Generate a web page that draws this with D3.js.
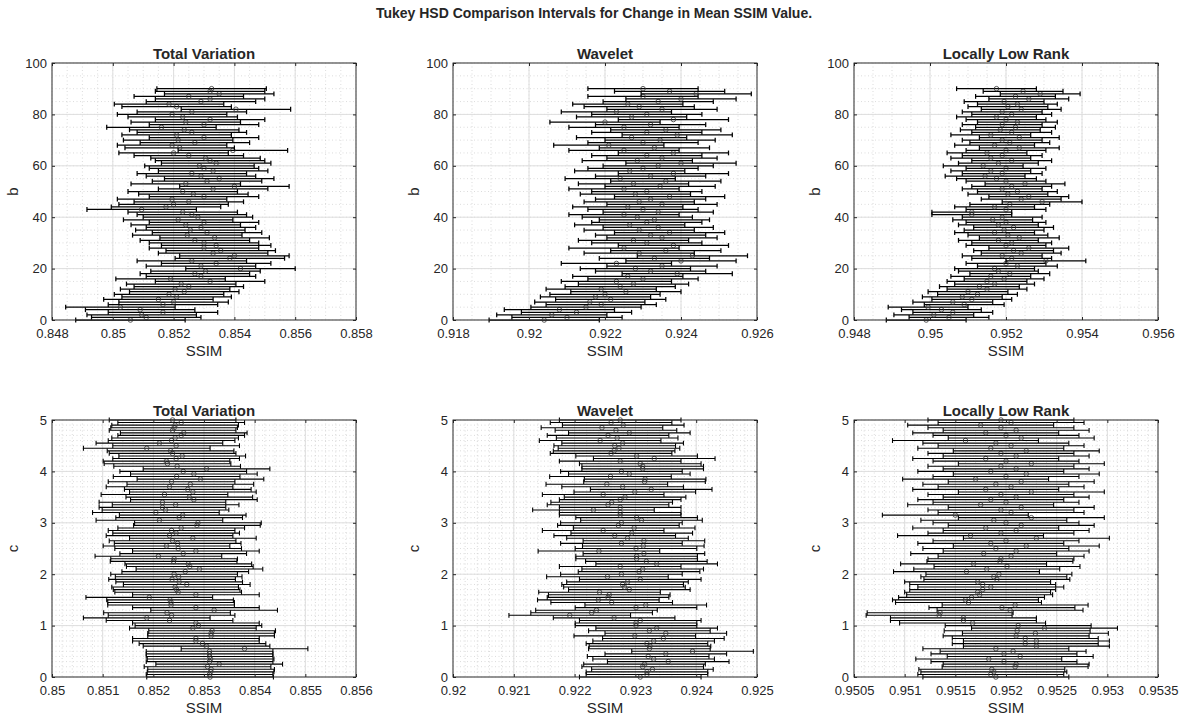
<!DOCTYPE html>
<html>
<head>
<meta charset="utf-8">
<script src="https://cdn.jsdelivr.net/npm/d3@7"></script>
<style>
  body { margin: 0; background: #fff; }
  svg text { font-family: "Liberation Sans", Arial, Helvetica, sans-serif; fill: #262626; }
</style>
</head>
<body>
<svg id="chart" width="1189" height="715"></svg>
<script>
// Factor levels
const bLevels = d3.range(0, 91);
const cLevels = d3.range(0, 101).map(i => +(i * 0.05).toFixed(2));

// Group means of SSIM for each level of b (top row)
const tvB = [
  0.85058,0.85110,0.85095,0.85165,0.85090,0.85025,0.85165,0.85200,0.85150,0.85210,
  0.85185,0.85235,0.85205,0.85250,0.85225,0.85320,0.85190,0.85290,0.85270,0.85305,
  0.85420,0.85290,0.85340,0.85260,0.85385,0.85400,0.85330,0.85355,0.85300,0.85340,
  0.85300,0.85270,0.85335,0.85245,0.85310,0.85255,0.85290,0.85240,0.85300,0.85215,
  0.85280,0.85260,0.85230,0.85095,0.85175,0.85200,0.85250,0.85195,0.85300,0.85265,
  0.85230,0.85330,0.85400,0.85240,0.85310,0.85350,0.85290,0.85260,0.85330,0.85300,
  0.85285,0.85340,0.85320,0.85305,0.85250,0.85200,0.85395,0.85220,0.85195,0.85270,
  0.85215,0.85300,0.85210,0.85260,0.85235,0.85160,0.85300,0.85240,0.85320,0.85230,
  0.85195,0.85260,0.85405,0.85210,0.85185,0.85290,0.85320,0.85250,0.85350,0.85320,
  0.85325];
const wavB = [
  0.92040,0.92100,0.92060,0.92125,0.92080,0.92150,0.92190,0.92160,0.92215,0.92175,
  0.92200,0.92255,0.92190,0.92240,0.92275,0.92230,0.92300,0.92260,0.92390,0.92320,
  0.92280,0.92350,0.92230,0.92400,0.92330,0.92430,0.92290,0.92360,0.92250,0.92380,
  0.92310,0.92275,0.92350,0.92320,0.92370,0.92290,0.92340,0.92265,0.92310,0.92330,
  0.92285,0.92250,0.92340,0.92300,0.92260,0.92350,0.92290,0.92320,0.92370,0.92280,
  0.92310,0.92250,0.92345,0.92275,0.92360,0.92240,0.92320,0.92380,0.92265,0.92300,
  0.92340,0.92400,0.92285,0.92350,0.92310,0.92380,0.92250,0.92330,0.92210,0.92300,
  0.92345,0.92270,0.92390,0.92310,0.92360,0.92250,0.92320,0.92200,0.92380,0.92270,
  0.92310,0.92230,0.92350,0.92290,0.92260,0.92340,0.92400,0.92300,0.92440,0.92370,
  0.92300];
const llrB = [
  0.94990,0.95050,0.95010,0.95060,0.95030,0.94995,0.95090,0.95060,0.95110,0.95085,
  0.95125,0.95100,0.95150,0.95130,0.95170,0.95150,0.95195,0.95160,0.95210,0.95180,
  0.95170,0.95230,0.95200,0.95305,0.95215,0.95190,0.95240,0.95220,0.95260,0.95200,
  0.95215,0.95180,0.95235,0.95205,0.95170,0.95195,0.95220,0.95180,0.95200,0.95165,
  0.95190,0.95110,0.95110,0.95200,0.95170,0.95210,0.95295,0.95240,0.95260,0.95205,
  0.95230,0.95190,0.95215,0.95250,0.95200,0.95175,0.95145,0.95190,0.95160,0.95200,
  0.95140,0.95180,0.95215,0.95160,0.95190,0.95150,0.95200,0.95235,0.95170,0.95210,
  0.95190,0.95235,0.95160,0.95215,0.95185,0.95225,0.95190,0.95230,0.95200,0.95175,
  0.95215,0.95190,0.95240,0.95205,0.95230,0.95195,0.95260,0.95225,0.95290,0.95245,
  0.95175];

// Group means of SSIM for each level of c (bottom row)
const tvC = [
  0.85312,0.85311,0.85313,0.85314,0.85307,0.85330,0.85311,0.85313,0.85311,0.85311,
  0.85311,0.85380,0.85305,0.85297,0.85284,0.85284,0.85314,0.85314,0.85316,0.85278,
  0.85289,0.85284,0.85232,0.85187,0.85236,0.85227,0.85320,0.85284,0.85235,0.85235,
  0.85233,0.85192,0.85284,0.85249,0.85246,0.85243,0.85266,0.85251,0.85237,0.85250,
  0.85241,0.85263,0.85291,0.85272,0.85269,0.85240,0.85241,0.85210,0.85259,0.85284,
  0.85249,0.85226,0.85248,0.85238,0.85278,0.85232,0.85245,0.85236,0.85255,0.85286,
  0.85288,0.85212,0.85251,0.85258,0.85205,0.85224,0.85218,0.85244,0.85218,0.85280,
  0.85271,0.85222,0.85278,0.85268,0.85232,0.85273,0.85236,0.85293,0.85246,0.85280,
  0.85259,0.85305,0.85247,0.85228,0.85226,0.85245,0.85257,0.85238,0.85234,0.85187,
  0.85245,0.85212,0.85236,0.85243,0.85255,0.85260,0.85238,0.85241,0.85243,0.85255,
  0.85238];
const wavC = [
  0.92308,0.92319,0.92319,0.92328,0.92312,0.92315,0.92354,0.92330,0.92321,0.92350,
  0.92394,0.92323,0.92324,0.92319,0.92330,0.92346,0.92299,0.92350,0.92323,0.92335,
  0.92301,0.92301,0.92308,0.92265,0.92192,0.92228,0.92236,0.92301,0.92317,0.92261,
  0.92239,0.92255,0.92257,0.92241,0.92290,0.92282,0.92279,0.92287,0.92308,0.92254,
  0.92277,0.92306,0.92312,0.92275,0.92335,0.92318,0.92302,0.92302,0.92314,0.92240,
  0.92301,0.92313,0.92277,0.92314,0.92287,0.92266,0.92294,0.92247,0.92298,0.92272,
  0.92277,0.92310,0.92302,0.92275,0.92275,0.92231,0.92275,0.92255,0.92261,0.92275,
  0.92283,0.92247,0.92299,0.92326,0.92279,0.92253,0.92315,0.92316,0.92259,0.92290,
  0.92277,0.92312,0.92312,0.92308,0.92275,0.92331,0.92302,0.92260,0.92265,0.92273,
  0.92266,0.92279,0.92242,0.92270,0.92255,0.92290,0.92268,0.92245,0.92280,0.92260,
  0.92275];
const llrC = [
  0.95190,0.95185,0.95188,0.95186,0.95209,0.95210,0.95198,0.95183,0.95214,0.95198,
  0.95207,0.95190,0.95230,0.95219,0.95230,0.95219,0.95210,0.95229,0.95211,0.95238,
  0.95212,0.95167,0.95158,0.95158,0.95134,0.95135,0.95204,0.95196,0.95209,0.95163,
  0.95160,0.95166,0.95174,0.95172,0.95177,0.95185,0.95177,0.95172,0.95191,0.95188,
  0.95193,0.95161,0.95181,0.95201,0.95168,0.95194,0.95195,0.95205,0.95178,0.95210,
  0.95190,0.95220,0.95185,0.95200,0.95230,0.95165,0.95195,0.95210,0.95180,0.95215,
  0.95200,0.95188,0.95225,0.95150,0.95205,0.95195,0.95215,0.95175,0.95200,0.95185,
  0.95210,0.95195,0.95225,0.95180,0.95205,0.95190,0.95215,0.95170,0.95200,0.95220,
  0.95185,0.95210,0.95195,0.95225,0.95200,0.95180,0.95210,0.95195,0.95220,0.95185,
  0.95205,0.95190,0.95160,0.95215,0.95200,0.95180,0.95210,0.95195,0.95175,0.95205,
  0.95195];

// Half-widths of the Tukey HSD comparison intervals
const halfWidths = [0.0018, 0.00145, 0.00105, 0.00125, 0.0010, 0.00072];

// Axis tick values
const tvBTicks  = [0.848, 0.85, 0.852, 0.854, 0.856, 0.858];
const wavBTicks = [0.918, 0.92, 0.922, 0.924, 0.926];
const llrBTicks = [0.948, 0.95, 0.952, 0.954, 0.956];
const tvCTicks  = [0.85, 0.851, 0.852, 0.853, 0.854, 0.855, 0.856];
const wavCTicks = [0.92, 0.921, 0.922, 0.923, 0.924, 0.925];
const llrCTicks = [0.9505, 0.951, 0.9515, 0.952, 0.9525, 0.953, 0.9535];
const bTicks = [0, 20, 40, 60, 80, 100];
const cTicks = [0, 1, 2, 3, 4, 5];

const titles = ["Total Variation", "Wavelet", "Locally Low Rank"];

const W = 304, H = 257;
const colX = [52, 453, 854];
const rowY = [63, 420];

const panels = [
  { title: titles[0], col: 0, row: 0, yName: "b", levels: bLevels, means: tvB,  h: halfWidths[0], xTicks: tvBTicks,  xMinor: 0.0005, yTicks: bTicks, yMinor: 5 },
  { title: titles[1], col: 1, row: 0, yName: "b", levels: bLevels, means: wavB, h: halfWidths[1], xTicks: wavBTicks, xMinor: 0.0005, yTicks: bTicks, yMinor: 5 },
  { title: titles[2], col: 2, row: 0, yName: "b", levels: bLevels, means: llrB, h: halfWidths[2], xTicks: llrBTicks, xMinor: 0.0005, yTicks: bTicks, yMinor: 5 },
  { title: titles[0], col: 0, row: 1, yName: "c", levels: cLevels, means: tvC,  h: halfWidths[3], xTicks: tvCTicks,  xMinor: 0.0002, yTicks: cTicks, yMinor: 0.1 },
  { title: titles[1], col: 1, row: 1, yName: "c", levels: cLevels, means: wavC, h: halfWidths[4], xTicks: wavCTicks, xMinor: 0.0002, yTicks: cTicks, yMinor: 0.1 },
  { title: titles[2], col: 2, row: 1, yName: "c", levels: cLevels, means: llrC, h: halfWidths[5], xTicks: llrCTicks, xMinor: 0.0001, yTicks: cTicks, yMinor: 0.1 }
];

const svg = d3.select("#chart");
const fmt = v => String(+v.toFixed(6));
const steps = (lo, hi, s) => d3.range(0, Math.round((hi - lo) / s) + 1).map(i => lo + i * s);

svg.append("text")
  .attr("x", 594).attr("y", 18)
  .attr("text-anchor", "middle")
  .attr("font-size", 14).attr("font-weight", "bold").attr("fill", "#000")
  .text("Tukey HSD Comparison Intervals for Change in Mean SSIM Value.");

panels.forEach(p => {
  const xDom = [p.xTicks[0], p.xTicks[p.xTicks.length - 1]];
  const yDom = [p.yTicks[0], p.yTicks[p.yTicks.length - 1]];
  const x = d3.scaleLinear().domain(xDom).range([0, W]);
  const y = d3.scaleLinear().domain(yDom).range([H, 0]);
  const g = svg.append("g").attr("transform", `translate(${colX[p.col]},${rowY[p.row]})`);

  // minor grid
  const gm = g.append("g").attr("stroke", "#c4c4c4").attr("stroke-width", 0.6).attr("stroke-dasharray", "1,2.5");
  gm.selectAll(".mx").data(steps(xDom[0], xDom[1], p.xMinor)).join("line")
    .attr("x1", d => x(d)).attr("x2", d => x(d)).attr("y1", 0).attr("y2", H);
  gm.selectAll(".my").data(steps(yDom[0], yDom[1], p.yMinor)).join("line")
    .attr("y1", d => y(d)).attr("y2", d => y(d)).attr("x1", 0).attr("x2", W);

  // major grid
  const gg = g.append("g").attr("stroke", "#dedede").attr("stroke-width", 1);
  gg.selectAll(".gx").data(p.xTicks).join("line")
    .attr("x1", d => x(d)).attr("x2", d => x(d)).attr("y1", 0).attr("y2", H);
  gg.selectAll(".gy").data(p.yTicks).join("line")
    .attr("y1", d => y(d)).attr("y2", d => y(d)).attr("x1", 0).attr("x2", W);

  // comparison intervals: horizontal bar with end caps and a circle at the mean
  const rows = p.levels.map((lv, i) => ({ lv, m: p.means[i], lo: p.means[i] - p.h, hi: p.means[i] + p.h }));
  const cap = 2.4;
  const sw = p.row === 0 ? 1.25 : 1.1;
  const eb = g.append("g").selectAll("g").data(rows).join("g");
  eb.append("line").attr("stroke", "#000").attr("stroke-width", sw)
    .attr("x1", d => x(d.lo)).attr("x2", d => x(d.hi)).attr("y1", d => y(d.lv)).attr("y2", d => y(d.lv));
  eb.append("line").attr("stroke", "#000").attr("stroke-width", sw)
    .attr("x1", d => x(d.lo)).attr("x2", d => x(d.lo)).attr("y1", d => y(d.lv) - cap).attr("y2", d => y(d.lv) + cap);
  eb.append("line").attr("stroke", "#000").attr("stroke-width", sw)
    .attr("x1", d => x(d.hi)).attr("x2", d => x(d.hi)).attr("y1", d => y(d.lv) - cap).attr("y2", d => y(d.lv) + cap);
  eb.append("circle").attr("fill", "none").attr("stroke", "#333").attr("stroke-width", 0.8)
    .attr("cx", d => x(d.m)).attr("cy", d => y(d.lv)).attr("r", 2.3);

  // axes with inward ticks on all four sides
  const ax = g.append("g").attr("transform", `translate(0,${H})`)
    .call(d3.axisBottom(x).tickValues(p.xTicks).tickFormat(fmt).tickSizeInner(-3).tickSizeOuter(0).tickPadding(9));
  const ay = g.append("g")
    .call(d3.axisLeft(y).tickValues(p.yTicks).tickFormat(fmt).tickSizeInner(-3).tickSizeOuter(0).tickPadding(5));
  const axT = g.append("g")
    .call(d3.axisTop(x).tickValues(p.xTicks).tickFormat("").tickSizeInner(-3).tickSizeOuter(0));
  const ayR = g.append("g").attr("transform", `translate(${W},0)`)
    .call(d3.axisRight(y).tickValues(p.yTicks).tickFormat("").tickSizeInner(-3).tickSizeOuter(0));
  [ax, ay, axT, ayR].forEach(a => {
    a.attr("font-family", null).attr("font-size", null);
    a.select(".domain").remove();
    a.selectAll(".tick line").attr("stroke", "#262626");
    a.selectAll(".tick text").attr("font-size", 13).attr("fill", "#262626");
  });

  // box
  g.append("rect").attr("x", 0).attr("y", 0).attr("width", W).attr("height", H)
    .attr("fill", "none").attr("stroke", "#262626").attr("stroke-width", 0.9);

  // titles and labels
  g.append("text").attr("x", W / 2).attr("y", -4.5).attr("text-anchor", "middle")
    .attr("font-size", 15).attr("font-weight", "bold").attr("fill", "#000").text(p.title);
  g.append("text").attr("x", W / 2).attr("y", H + 35.5).attr("text-anchor", "middle")
    .attr("font-size", 15).text("SSIM");
  g.append("text").attr("transform", `translate(-34.5,${H / 2}) rotate(-90)`)
    .attr("text-anchor", "middle").attr("font-size", 15).text(p.yName);
});
</script>
</body>
</html>
